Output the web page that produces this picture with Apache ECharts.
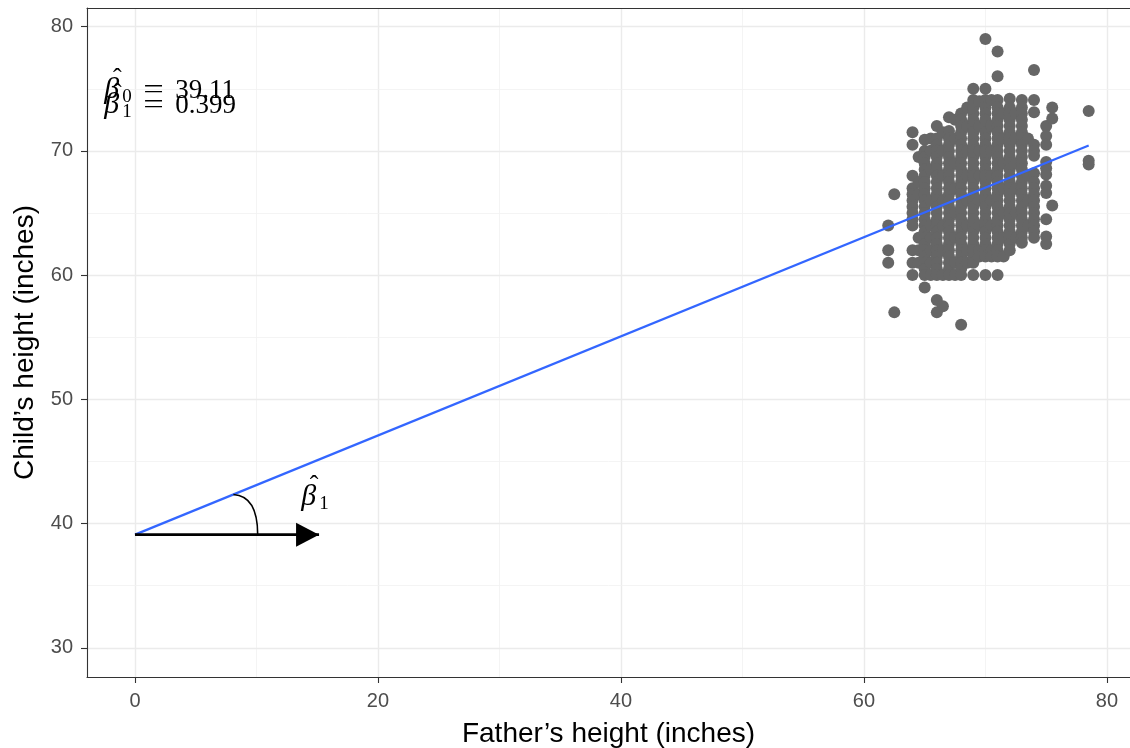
<!DOCTYPE html>
<html>
<head>
<meta charset="utf-8">
<script src="https://cdn.jsdelivr.net/npm/echarts@6/dist/echarts.min.js"></script>
<style>
  html, body { margin: 0; padding: 0; background: #fff; }
  #chart { width: 1130px; height: 748px; }
</style>
</head>
<body>
<div id="chart"></div>
<script>
// father's height columns and the child heights seen above each of them
const fatherCols = [62, 62.5, 64, 64.5, 65, 65.5, 66, 66.5, 67, 67.5, 68, 68.5, 69, 69.5, 70, 70.5, 71, 71.5, 72, 72.5, 73, 73.5, 74, 75, 75.5, 78.5];
const childCols = [
  [64, 62, 61],
  [66.5, 57],
  [71.5, 70.5, 68, 67, 66.5, 66, 65.5, 65, 64.5, 64, 62, 61, 60],
  [69.5, 67.5, 66.5, 63, 62, 61],
  [70.9, 70, 69.5, 69, 68.5, 68, 67.5, 67, 66.5, 66, 65.5, 65, 64.5, 64, 63.5, 63, 62.5, 62, 61.5, 61, 60.5, 60, 59],
  [71, 70, 68.5, 66, 64, 63, 62, 61, 60],
  [72, 71, 70.5, 70, 69.5, 69, 68.5, 68, 67.5, 67, 66.5, 66, 65.5, 65, 64.5, 64, 63.5, 63, 62.5, 62, 61.5, 61, 60.5, 60, 58, 57],
  [71.5, 70, 68, 66, 64, 62, 60, 57.5],
  [72.7, 71.6, 71, 70.5, 70, 69.5, 69, 68.5, 68, 67.5, 67, 66.5, 66, 65.5, 65, 64.5, 64, 63.5, 63, 62.5, 62, 61.5, 61, 60.5, 60],
  [72.5, 71, 69, 67, 65, 63, 61, 60],
  [73, 72.5, 72, 71.5, 71, 70.5, 70, 69.5, 69, 68.5, 68, 67.5, 67, 66.5, 66, 65.5, 65, 64.5, 64, 63.5, 63, 62.5, 62, 61.5, 61, 60.5, 60, 56],
  [73.5, 72, 70, 68, 66, 64, 62, 61],
  [75, 74.1, 73.5, 73, 72.5, 72, 71.5, 71, 70.5, 70, 69.5, 69, 68.5, 68, 67.5, 67, 66.5, 66, 65.5, 65, 64.5, 64, 63.5, 63, 62.5, 62, 61.5, 61, 60],
  [74, 72, 70, 68, 66, 64, 62, 61.5],
  [79, 75, 74.1, 73.5, 73, 72.5, 72, 71.5, 71, 70.5, 70, 69.5, 69, 68.5, 68, 67.5, 67, 66.5, 66, 65.5, 65, 64.5, 64, 63.5, 63, 62.5, 62, 61.5, 60],
  [74.1, 72, 70, 68, 66, 64, 62, 61.5],
  [78, 76, 74.1, 73.5, 73, 72.5, 72, 71.5, 71, 70.5, 70, 69.5, 69, 68.5, 68, 67.5, 67, 66.5, 66, 65.5, 65, 64.5, 64, 63.5, 63, 62.5, 62, 61.5, 60],
  [73, 71, 69, 67, 65, 63, 61.5],
  [74.2, 73.5, 73, 72.5, 72, 71.5, 71, 70.5, 70, 69.5, 69, 68.5, 68, 67.5, 67, 66.5, 66, 65.5, 65, 64.5, 64, 63.5, 63, 62.5, 62],
  [73, 71, 69, 67, 65, 63],
  [74.1, 73.5, 73, 72.5, 72, 71.5, 71, 70.5, 70, 69.5, 69, 68.5, 68, 67.5, 67, 66.5, 66, 65.5, 65, 64.5, 64, 63.5, 63, 62.6],
  [71, 68, 66, 64],
  [76.5, 74.1, 73.1, 70.5, 70, 69.6, 68.2, 67.5, 67, 66.5, 66, 65.5, 65, 64.5, 64, 63.5, 63],
  [72, 71.2, 70.5, 69.1, 68.6, 68.1, 67.2, 66.6, 64.5, 63.1, 62.5],
  [73.5, 72.6, 65.6],
  [73.2, 69.2, 68.9]
];

// fitted line (beta0 = 39.11, beta1 = 0.399)
const fitX = [0, 78.5];
const fitY = [39.11, 70.43];
const beta0Label = '39.11';
const beta1Label = '0.399';

// arrow showing the slope angle
const arrowX = [0, 15.15];
const arrowY = [39.11, 39.11];
const arcFrom = [8.1, 42.34];
const arcTo = [10.1, 39.11];

// ticks and grid
const xTicks = [0, 20, 40, 60, 80];
const xMinor = [10, 30, 50, 70];
const yTicks = [30, 40, 50, 60, 70, 80];
const yMinor = [35, 45, 55, 65, 75];

// where the text annotations sit (data units)
const eqAnchor = [-2.44, 74.07];
const arrowLabelAnchor = [13.76, 41.32];

const points = [];
fatherCols.forEach((f, i) => childCols[i].forEach(c => points.push([f, c])));

const sans = 'Liberation Sans, Arial, sans-serif';
const serif = 'Liberation Serif, Times New Roman, serif';
const xRange = [-3.95, 81.9];
const yRange = [27.65, 81.5];

const gridLines = [];
xTicks.forEach(v => gridLines.push({ xAxis: v, lineStyle: { color: '#EBEBEB', width: 1.4, type: 'solid' } }));
xMinor.forEach(v => gridLines.push({ xAxis: v, lineStyle: { color: '#F1F1F1', width: 0.8, type: 'solid' } }));
yTicks.forEach(v => gridLines.push({ yAxis: v, lineStyle: { color: '#EBEBEB', width: 1.4, type: 'solid' } }));
yMinor.forEach(v => gridLines.push({ yAxis: v, lineStyle: { color: '#F1F1F1', width: 0.8, type: 'solid' } }));

const chart = echarts.init(document.getElementById('chart'), null, { renderer: 'canvas' });

const border = { show: true, onZero: false, lineStyle: { color: '#333333', width: 1.1 } };

chart.setOption({
  animation: false,
  backgroundColor: '#fff',
  grid: { left: 87, top: 8, right: 0, bottom: 71, show: false, containLabel: false, outerBoundsMode: 'none' },
  xAxis: [
    {
      type: 'value', min: xRange[0], max: xRange[1], position: 'bottom',
      name: 'Father\u2019s height (inches)', nameLocation: 'middle', nameGap: 43,
      nameTextStyle: { fontSize: 28, color: '#000', fontFamily: sans },
      axisLine: border,
      axisTick: { show: true, length: 6, customValues: xTicks, lineStyle: { color: '#333333', width: 1.1 } },
      axisLabel: { customValues: xTicks, color: '#4D4D4D', fontSize: 20, fontFamily: sans, margin: 14 },
      splitLine: { show: false }
    },
    {
      // top edge of the panel
      type: 'value', min: xRange[0], max: xRange[1], position: 'top',
      axisLine: border, axisTick: { show: false }, axisLabel: { show: false }, splitLine: { show: false }
    }
  ],
  yAxis: {
    type: 'value', min: yRange[0], max: yRange[1],
    name: 'Child\u2019s height (inches)', nameLocation: 'middle', nameGap: 48,
    nameTextStyle: { fontSize: 28, color: '#000', fontFamily: sans },
    axisLine: border,
    axisTick: { show: true, length: 6, customValues: yTicks, lineStyle: { color: '#333333', width: 1.1 } },
    axisLabel: { customValues: yTicks, color: '#4D4D4D', fontSize: 20, fontFamily: sans, margin: 14 },
    splitLine: { show: false }
  },
  series: [
    {
      type: 'line', data: [], silent: true, z: 0,
      markLine: { silent: true, symbol: 'none', label: { show: false }, z: 0, data: gridLines }
    },
    {
      type: 'scatter', data: points, symbolSize: 12, silent: true, z: 2,
      itemStyle: { color: '#666666', opacity: 1 }
    },
    {
      type: 'line', data: fitX.map((x, i) => [x, fitY[i]]), symbol: 'none', silent: true, z: 3,
      lineStyle: { color: '#3366FF', width: 2.2 }
    },
    {
      type: 'line', silent: true, z: 4, symbol: 'none',
      data: [
        [arrowX[0], arrowY[0]],
        { value: [arrowX[1], arrowY[1]], symbol: 'triangle', symbolSize: [24, 23], symbolRotate: -90, symbolOffset: [-11.5, 0],
          itemStyle: { color: '#000' } }
      ],
      lineStyle: { color: '#000', width: 2.8 }
    }
  ]
});

function drawAnnotations() {
  const px = p => chart.convertToPixel({ gridIndex: 0 }, p);
  const [ax, ay] = px(eqAnchor);
  const [lx, ly] = px(arrowLabelAnchor);
  const [s0x, s0y] = px(arcFrom);
  const [s1x, s1y] = px(arcTo);
  const els = [];
  const txt = (x, y, text, size, italic, sx) => els.push({
    type: 'text', x, y, silent: true, z: 10, scaleX: sx || 1,
    style: { text, fontSize: size, fontFamily: serif, fontStyle: italic ? 'italic' : 'normal', fill: '#000', align: 'left', verticalAlign: 'middle' }
  });
  const betaHat = (x, base, sub) => {
    txt(x - 1, base - 10, '\u03B2', 30, true);
    els.push({
      type: 'text', x: x + 12, y: base - 21, silent: true, z: 10,
      style: { text: '\u02C6', fontSize: 26, fontFamily: serif, fill: '#000', align: 'center', verticalAlign: 'middle' }
    });
    txt(x + 17, base - 3, sub, 19, false);
  };
  [[ay, '0', beta0Label], [ay + 15, '1', beta1Label]].forEach(([base, sub, val]) => {
    betaHat(ax, base, sub);
    txt(ax + 38, base - 9, '=', 27, false, 1.35);
    txt(ax + 70, base - 9, val, 27, false);
  });
  betaHat(lx, ly, '1');
  els.push({
    type: 'bezierCurve', silent: true, z: 10,
    shape: { x1: s0x, y1: s0y, cpx1: s0x + 16, cpy1: s0y + 1, cpx2: s1x, cpy2: s1y - 25, x2: s1x, y2: s1y },
    style: { stroke: '#000', lineWidth: 1.6, fill: null }
  });
  chart.setOption({ graphic: els });
}
drawAnnotations();
</script>
</body>
</html>
